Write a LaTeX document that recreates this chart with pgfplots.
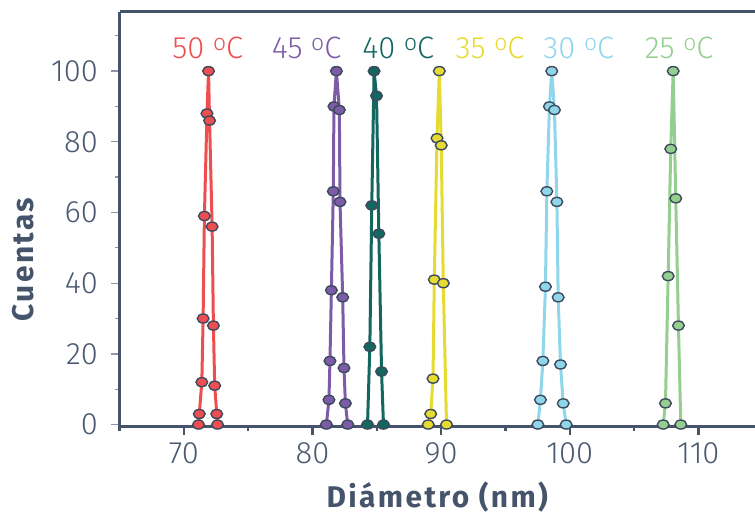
\documentclass[border=0pt]{standalone}
\usepackage{fontspec}
\setmainfont{Fira Sans}[UprightFont=* Light, BoldFont=* Bold]
\usepackage{pgfplots}
\pgfplotsset{compat=1.18}

\definecolor{axiscol}{HTML}{46546B}
\definecolor{ticktext}{HTML}{4A5870}
\definecolor{tickgray}{HTML}{8D96A5}
\definecolor{c50}{HTML}{EF4E50}
\definecolor{c45}{HTML}{7C5BA7}
\definecolor{c40}{HTML}{13675F}
\definecolor{c35}{HTML}{E6DB30}
\definecolor{c30}{HTML}{90D6EA}
\definecolor{c25}{HTML}{95CF8F}
\definecolor{edge}{HTML}{3E4A5E}

% temperature unit with a raised small o
\newcommand\gc{\raisebox{0.28em}{\fontsize{23}{23}\selectfont o}C}

\pgfplotsset{
  serie/.style={line width=3bp, color=#1, mark=*, mark size=4.5bp,
    mark options={xscale=1.3, draw=edge, fill=#1, line width=1.4bp}},
}

\begin{document}
\begin{tikzpicture}
\path[use as bounding box] (0,0) rectangle (755bp,515bp);
\begin{axis}[
  at={(119.5bp,88.3bp)}, anchor=south west,
  scale only axis, width=635.5bp, height=415bp,
  xmin=65, xmax=114.4, ymin=-0.6, ymax=116.8,
  separate axis lines,
  axis x line*=box, axis y line*=left,
  axis line style={line width=2.5bp, color=axiscol},
  xtick={70,80,90,100,110}, minor xtick={65,75,85,95,105},
  ytick={0,20,40,60,80,100}, minor ytick={10,30,50,70,90,110},
  xtick pos=bottom, ytick pos=left,
  tick align=outside,
  major tick length=8.5bp, minor tick length=4bp,
  x tick style={line width=2.5bp, color=axiscol},
  y tick style={line width=1.3bp, color=tickgray},
  /pgf/number format/assume math mode=true,
  ticklabel style={font=\fontsize{31}{36}\selectfont, text=ticktext},
  xticklabel style={inner sep=0pt, yshift=-7bp},
  yticklabel style={inner sep=0pt, xshift=-13bp},
  xlabel={Diámetro (nm)},
  ylabel={Cuentas},
  label style={font=\fontsize{30}{34}\selectfont\bfseries\addfontfeature{LetterSpace=8}, text=axiscol},
  xlabel style={at={(axis description cs:0.5,-0.1935)}, anchor=base},
  ylabel style={at={(axis description cs:-0.1361,0.403)}, anchor=base},
  clip=true, axis on top,
]
% 50 ºC
\addplot[serie=c50] coordinates {
  (71.14,0) (71.20,3) (71.40,12) (71.50,30) (71.60,59) (71.80,88) (71.92,100)
  (72.00,86) (72.20,56) (72.30,28) (72.40,11) (72.56,3) (72.62,0)};
% 45 ºC
\addplot[serie=c45] coordinates {
  (81.08,0) (81.28,7) (81.36,18) (81.47,38) (81.62,66) (81.67,90) (81.86,100)
  (82.09,89) (82.14,63) (82.35,36) (82.45,16) (82.56,6) (82.74,0)};
% 40 ºC
\addplot[serie=c40] coordinates {
  (84.28,0) (84.46,22) (84.61,62) (84.79,100) (84.98,93) (85.16,54) (85.37,15) (85.52,0)};
% 35 ºC
\addplot[serie=c35] coordinates {
  (89.00,0) (89.19,3) (89.37,13) (89.47,41) (89.68,81) (89.86,100)
  (90.01,79) (90.17,40) (90.42,0)};
% 30 ºC
\addplot[serie=c30] coordinates {
  (97.52,0) (97.72,7) (97.91,18) (98.11,39) (98.22,66) (98.42,90) (98.60,100)
  (98.81,89) (99.00,63) (99.10,36) (99.28,17) (99.49,6) (99.72,0)};
% 25 ºC
\addplot[serie=c25] coordinates {
  (107.26,0) (107.44,6) (107.65,42) (107.85,78) (108.04,100)
  (108.24,64) (108.45,28) (108.63,0)};

% series names above the peaks
\begin{scope}[every node/.style={anchor=base, font=\fontsize{31}{36}\selectfont}]
\node[text=c50] at (axis cs:71.86,103.5) {50 \gc};
\node[text=c45] at (axis cs:79.54,103.5) {45 \gc};
\node[text=c40] at (axis cs:86.67,103.5) {40 \gc};
\node[text=c35] at (axis cs:93.80,103.5) {35 \gc};
\node[text=c30] at (axis cs:100.70,103.5) {30 \gc};
\node[text=c25] at (axis cs:108.50,103.5) {25 \gc};
\end{scope}
\end{axis}
\end{tikzpicture}
\end{document}
